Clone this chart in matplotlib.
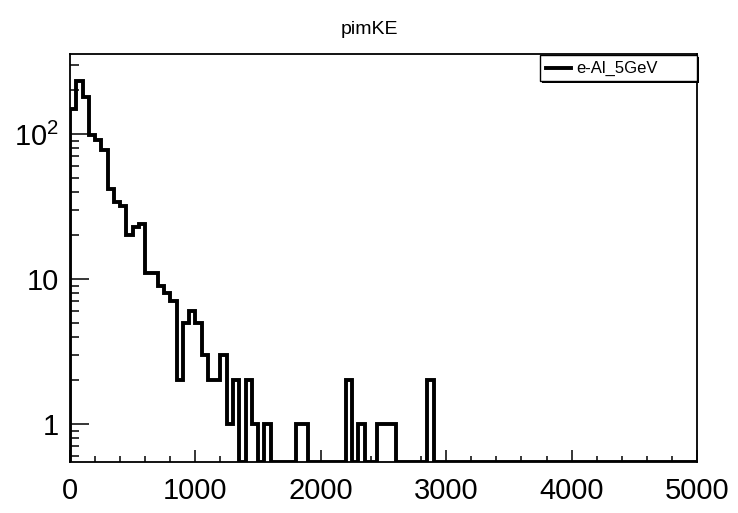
import numpy as np
import matplotlib
matplotlib.use('Agg')
import matplotlib.pyplot as plt
from matplotlib.patches import Rectangle
from matplotlib.lines import Line2D
from matplotlib.ticker import FixedLocator, LogLocator, NullFormatter

plt.rcParams['font.family'] = ['Liberation Sans', 'DejaVu Sans']
plt.rcParams['mathtext.fontset'] = 'custom'
plt.rcParams['mathtext.rm'] = 'Liberation Sans'

# pimKE histogram, 100 bins of 50 from 0 to 5000
bin_edges = np.linspace(0.0, 5000.0, 101)
counts = np.zeros(100)
counts[:58] = [148, 233, 181, 98, 91, 78, 42, 34, 32, 20,
               23, 24, 11, 11, 9, 8, 7, 2, 5, 6,
               5, 3, 2, 2, 3, 1, 2, 0, 2, 1,
               0, 1, 0, 0, 0, 0, 1, 1, 0, 0,
               0, 0, 0, 0, 2, 0, 1, 0, 0, 1,
               1, 1, 0, 0, 0, 0, 0, 2]
series_label = 'e-Al_5GeV'
title = 'pimKE'
y_ticks = [1, 10, 100]
y_ticklabels = ['1', '10', r'$\mathregular{10^{2}}$']

YMIN, YMAX = 0.547, 356.0

W, H = 738, 513
fig = plt.figure(figsize=(W / 100, H / 100), dpi=100)
# frame in pixels: x 70..697, y 54..462
ax = fig.add_axes([70 / W, 1 - 462 / H, 627 / W, 408 / H])

# ROOT draws empty bins on the frame bottom in log scale
drawn = np.where(counts > 0, counts, YMIN)
st = ax.stairs(drawn, bin_edges, baseline=YMIN, color='black', linewidth=2.8)
st.set_joinstyle('miter')

ax.set_yscale('log')
ax.set_xlim(0, 5000)
ax.set_ylim(YMIN, YMAX)

ax.xaxis.set_major_locator(FixedLocator(np.arange(0, 5001, 1000)))
ax.xaxis.set_minor_locator(FixedLocator(np.arange(0, 5001, 200)))
ax.yaxis.set_major_locator(FixedLocator(y_ticks))
ax.set_yticklabels(y_ticklabels)
ax.yaxis.set_minor_locator(LogLocator(base=10, subs=np.arange(2, 10)))
ax.yaxis.set_minor_formatter(NullFormatter())

ax.tick_params(axis='both', which='both', direction='in', width=1.1,
               top=False, right=False, labelsize=21, colors='black')
ax.tick_params(axis='x', which='major', length=8.6, pad=11)
ax.tick_params(axis='x', which='minor', length=4.3)
ax.tick_params(axis='y', which='major', length=13.7, pad=8)
ax.tick_params(axis='y', which='minor', length=6.8)
for s in ax.spines.values():
    s.set_linewidth(1.3)

fig.text(0.5, 1 - 30 / H, title, ha='center', va='center', fontsize=14)

# legend box with ROOT style shadow
lx0, lx1, ly0, ly1 = 540, 697, 55, 81
fig.patches.append(Rectangle((lx0 / W + 2 / W, 1 - ly1 / H - 2 / H), (lx1 - lx0) / W, (ly1 - ly0) / H,
                             transform=fig.transFigure, facecolor='black', edgecolor='none', zorder=5))
fig.patches.append(Rectangle((lx0 / W, 1 - ly1 / H), (lx1 - lx0) / W, (ly1 - ly0) / H,
                             transform=fig.transFigure, facecolor='white', edgecolor='black',
                             linewidth=1.0, zorder=6))
ly = 1 - (ly0 + ly1) / 2 / H
fig.lines.append(Line2D([546 / W, 571 / W], [ly, ly], transform=fig.transFigure,
                        color='black', linewidth=2.8, zorder=7))
fig.text(576 / W, ly, series_label, ha='left', va='center', fontsize=12, zorder=8)

fig.savefig('out.png', dpi=100)
